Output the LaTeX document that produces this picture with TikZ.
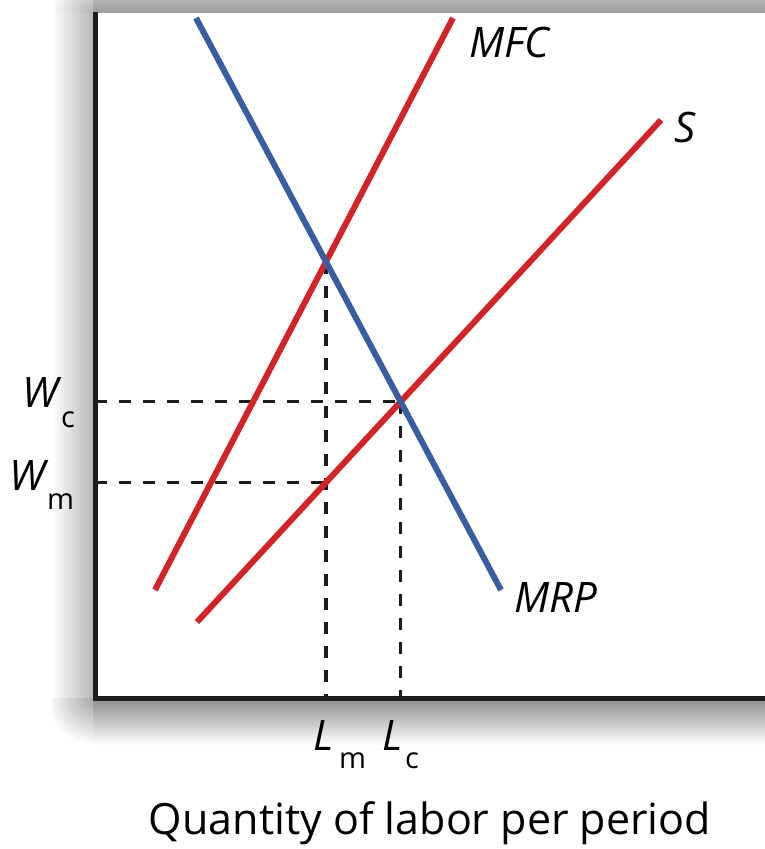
\documentclass[tikz,border=0pt]{standalone}
\usepackage{fontspec}
\setmainfont{Open Sans}
\usetikzlibrary{intersections,calc}
\definecolor{curvered}{RGB}{210,35,38}
\definecolor{curveblue}{RGB}{58,92,160}
\definecolor{axisgray}{RGB}{28,28,28}
\tikzset{
  axisline/.style={draw=axisgray,line width=5pt},
  redcurve/.style={draw=curvered,line width=6pt},
  bluecurve/.style={draw=curveblue,line width=6pt},
  guide/.style={draw=axisgray,line width=3.5pt,dash pattern=on 12pt off 12pt},
  curvelabel/.style={font=\fontsize{42}{50}\selectfont\itshape,inner sep=0pt,anchor=base west},
  sublabel/.style={font=\fontsize{29}{34}\selectfont,inner sep=0pt,anchor=base west},
  axislabel/.style={font=\fontsize{43}{50}\selectfont,inner sep=0pt,anchor=base}
}
\begin{document}
\begin{tikzpicture}[x=1pt,y=-1pt]
\useasboundingbox (0,0) rectangle (765,849);
\fill[white] (0,0) rectangle (765,849);
% soft drop shadow of the panel
\shade[left color=white,right color=black!28] (52,12) rectangle (93,698);
\shade[top color=black!30,bottom color=black!38] (93,0) rectangle (765,12);
\shade[top color=black!45,bottom color=white] (93,698) rectangle (765,745);
\begin{scope}
\clip (52,698) rectangle (93,745);
\shade[inner color=black!35,outer color=white] (93,698) circle (46);
\end{scope}
\begin{scope}
\clip (52,0) rectangle (93,12);
\shade[inner color=black!30,outer color=white] (93,12) circle (42);
\end{scope}
% axes
\coordinate (O) at (95,698);
\coordinate (Ytop) at (95,12);
\coordinate (Xend) at (765,698);
% curve end points
\coordinate (mrpA) at (196,18);
\coordinate (mrpB) at (501,590);
\coordinate (mfcA) at (155,590);
\coordinate (mfcB) at (453,18);
\coordinate (sA) at (197,622);
\coordinate (sB) at (661,120);
\path[name path=mrp] (mrpA) -- (mrpB);
\path[name path=mfc] (mfcA) -- (mfcB);
\path[name path=sup] (sA) -- (sB);
\path[name intersections={of=mrp and mfc,by=E1}];
\path[name intersections={of=mrp and sup,by=E2}];
\path[name path=vline] (E1) -- (E1 |- O);
\path[name intersections={of=vline and sup,by=E3}];
% guides
\draw[guide] (O |- E2) -- (E2);
\draw[guide] (O |- E3) -- (E3);
\draw[guide] (E1) -- (E1 |- O);
\draw[guide] (E2) -- (E2 |- O);
% curves
\draw[redcurve] (mfcA) -- (mfcB);
\draw[redcurve] (sA) -- (sB);
\draw[bluecurve] (mrpA) -- (mrpB);
\draw[axisline] (Ytop) -- (O) -- (Xend);
% labels
\node[curvelabel] (lmfc) at (469,57) {MFC};
\node[curvelabel] (ls) at (674,142) {S};
\node[curvelabel] (lmrp) at (514,612) {MRP};
\node[curvelabel] (wc) at (22,407) {W};
\node[sublabel] (wcs) at (61,427) {c};
\node[curvelabel] (wm) at (9,490) {W};
\node[sublabel] (wms) at (47,509) {m};
\node[curvelabel] (lm) at (313,750) {L};
\node[sublabel] (lms) at (339,768) {m};
\node[curvelabel] (lc) at (382,750) {L};
\node[sublabel] (lcs) at (405,768) {c};
\node[axislabel] (xlab) at (430,834) {Quantity of labor per period};
\end{tikzpicture}
\end{document}
